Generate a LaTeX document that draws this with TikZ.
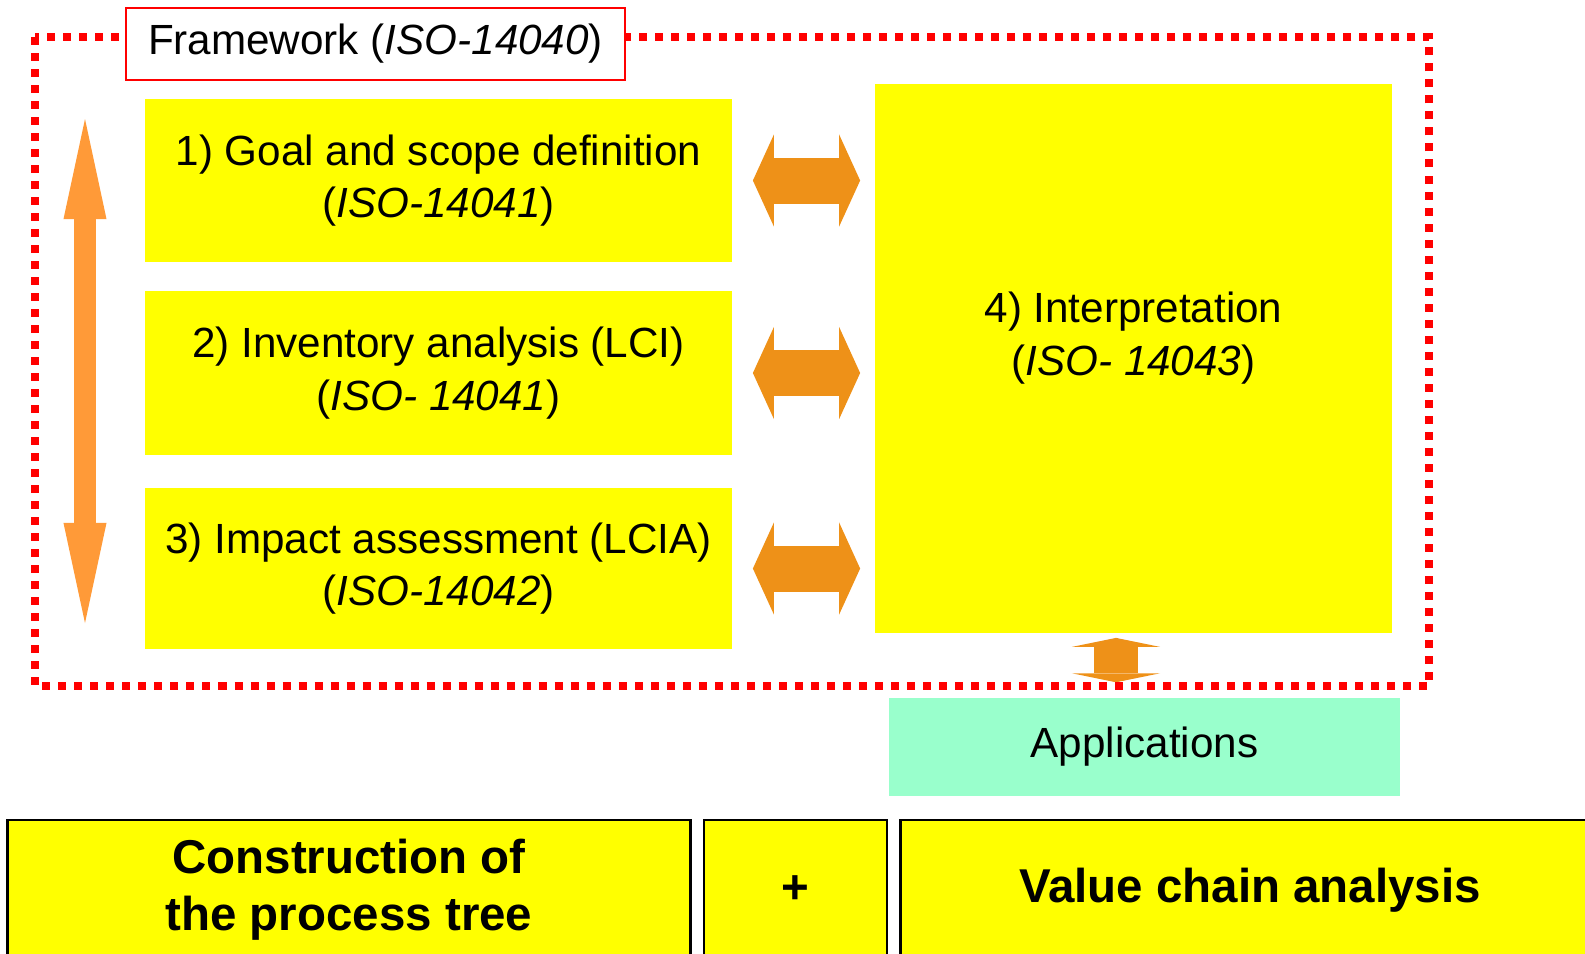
\documentclass[tikz,border=0pt]{standalone}
\usepackage{fontspec}
\setmainfont{Liberation Sans}
\usetikzlibrary{arrows.meta}
\definecolor{lcayellow}{HTML}{FFFF00}
\definecolor{lcaorange}{HTML}{EE9118}
\definecolor{lcalight}{HTML}{FF9A38}
\definecolor{lcagreen}{HTML}{99FFCC}
\tikzset{phase/.style={fill=lcayellow,align=center,inner sep=0pt,font=\fontsize{12}{15}\selectfont}}

\begin{document}
\begin{tikzpicture}[x=0.01cm,y=-0.01cm,
 link/.style={lcaorange,line width=0.46cm,{Triangle[length=0.21cm,width=0.92cm,line width=0pt]}-{Triangle[length=0.21cm,width=0.92cm,line width=0pt]}},
 base/.style={draw=black,line width=0.8pt,fill=lcayellow,minimum height=1.4cm,align=center,inner sep=0pt,font=\fontsize{13.5}{16.2}\selectfont\bfseries}]
\useasboundingbox (0,0) rectangle (1585,953);
\clip (0,0) rectangle (1585,953);
\node[phase,minimum width=5.87cm,minimum height=1.63cm](goal) at (438.5,180.5){1) Goal and scope definition\\(\textit{ISO-14041})};
\node[phase,minimum width=5.87cm,minimum height=1.64cm](lci) at (438.5,373){2) Inventory analysis (LCI)\\(\textit{ISO- 14041})};
\node[phase,minimum width=5.87cm,minimum height=1.61cm](lcia) at (438.5,568.5){3) Impact assessment (LCIA)\\(\textit{ISO-14042})};
\node[phase,minimum width=5.17cm,minimum height=5.49cm](interp) at (1133.5,358.5){};
\node[phase,fill=none](interptext) at (1133.5,338){4) Interpretation\\(\textit{ISO- 14043})};
\node[phase,fill=lcagreen,minimum width=5.11cm,minimum height=0.98cm](apps) at (1144.5,747){Applications};
\foreach \b in {goal,lci,lcia}
 \draw[link,shorten <=0.2cm,shorten >=0.14cm](\b.east)--(\b.east-|interp.west);
\draw[link,line width=0.44cm,{Triangle[length=0.09cm,width=0.88cm,line width=0pt]}-{Triangle[length=0.09cm,width=0.88cm,line width=0pt]},shorten <=0.04cm,shorten >=0.15cm](interp.south-|1116,0)--(apps.north-|1116,0);
\coordinate(vtop) at (85,119);
\coordinate(vbot) at (85,623);
\draw[lcalight,line width=0.22cm,{Triangle[length=1cm,width=0.43cm,line width=0pt]}-{Triangle[length=1cm,width=0.43cm,line width=0pt]}](vtop)--(vbot);
\draw[red,line width=0.08cm,dash pattern=on 0.08cm off 0.08cm](35,37) rectangle (1429,686);
\node[draw=red,fill=white,line width=0.6pt,minimum width=4.99cm,minimum height=0.72cm,inner sep=0pt,font=\fontsize{12}{15}\selectfont](frame) at (375.5,44){Framework (\textit{ISO-14040})};
\node[base,minimum width=6.82cm](tree) at (349,890){Construction of\\the process tree};
\node[base,minimum width=1.83cm](plus) at (795.5,890){+};
\node[base,minimum width=6.98cm](chain) at (1250,890){Value chain analysis};
\end{tikzpicture}
\end{document}
